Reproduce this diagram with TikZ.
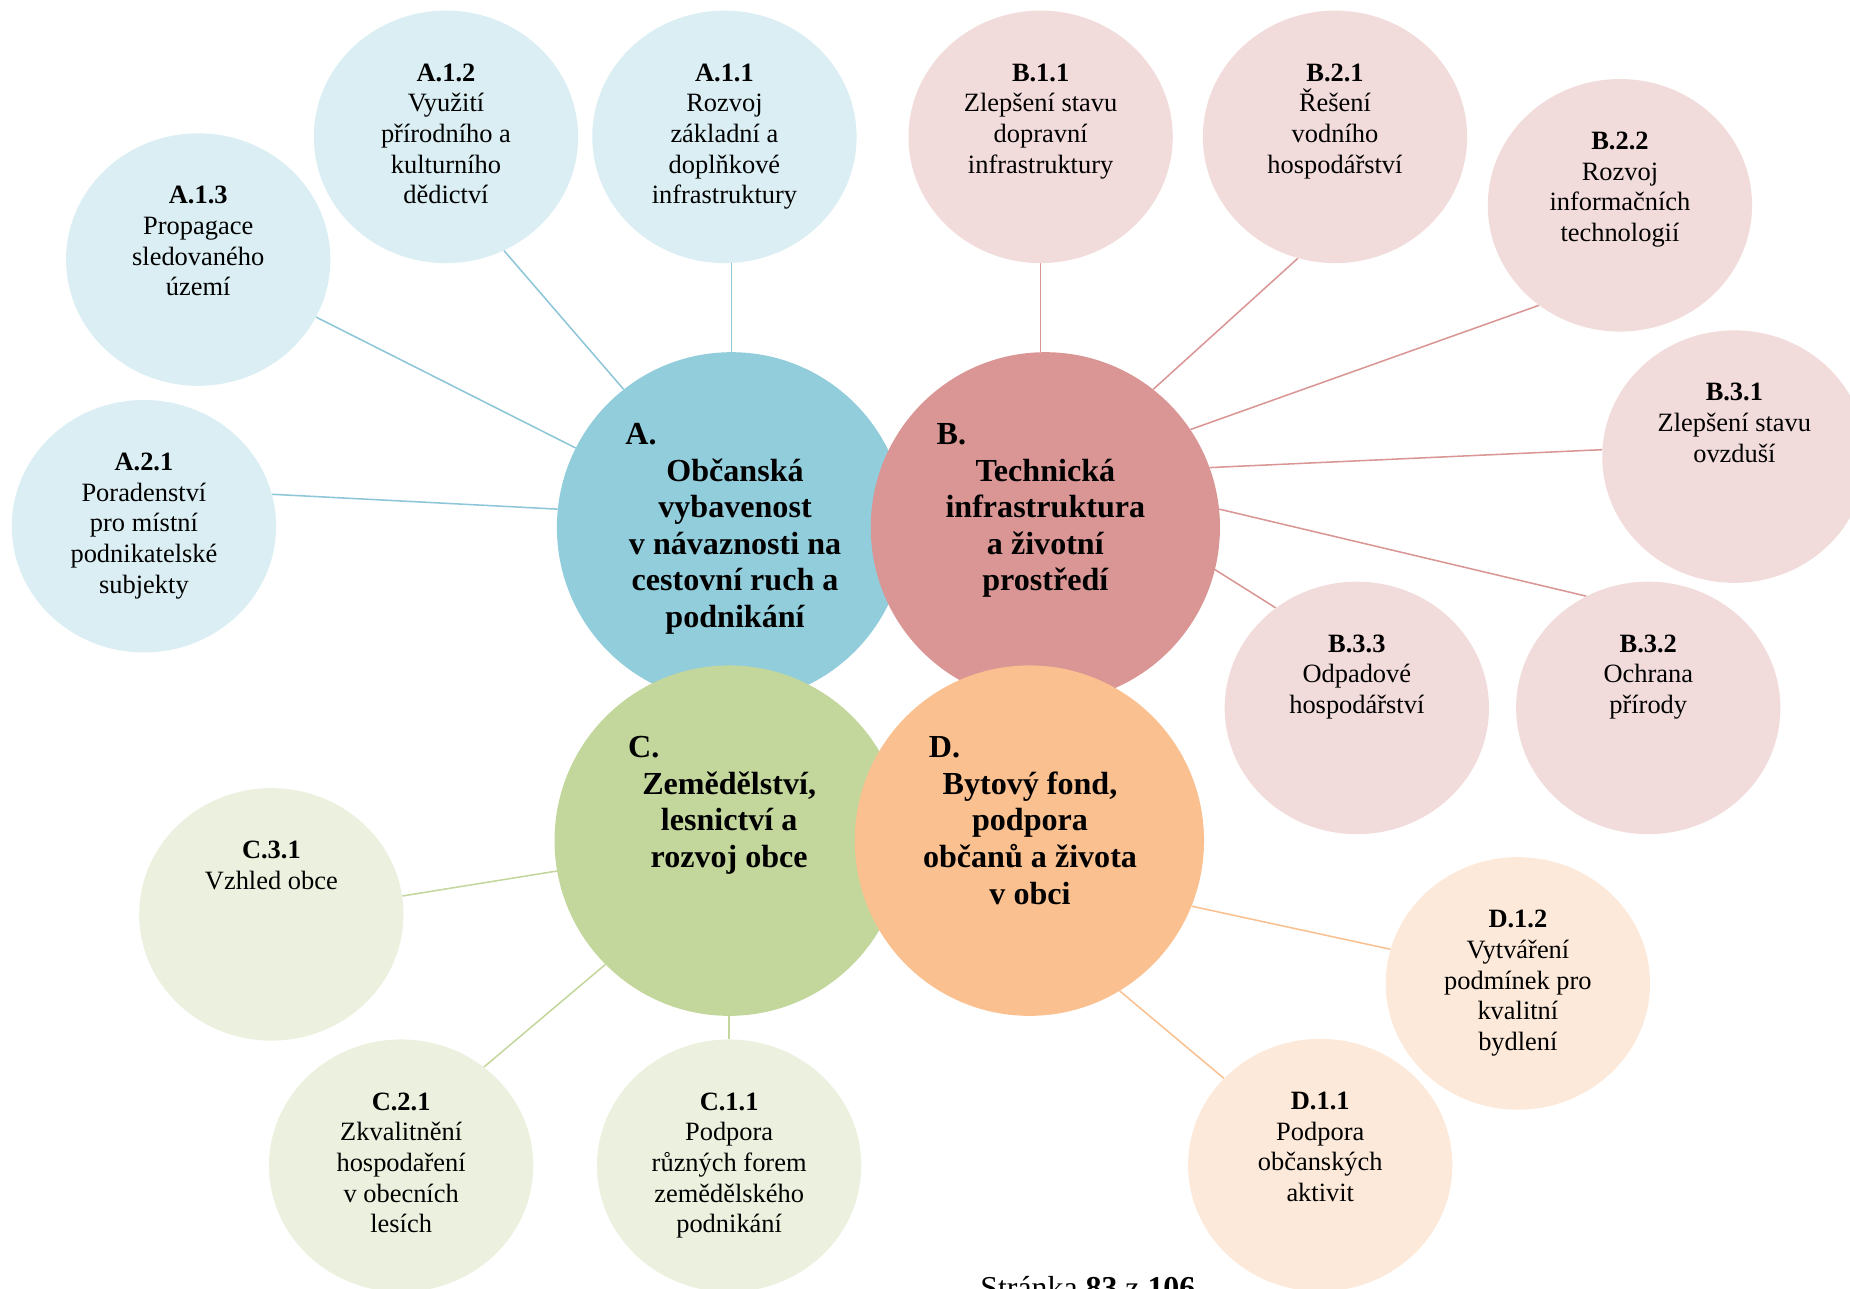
\documentclass[tikz,border=0pt]{standalone}
\usepackage{fontspec}
\setmainfont{Liberation Serif}
\usetikzlibrary{shapes.geometric,calc,backgrounds}
\definecolor{hubA}{HTML}{92CDDC}
\definecolor{satA}{HTML}{DAEEF3}
\definecolor{lnA}{HTML}{8CC6D8}
\definecolor{hubB}{HTML}{D99694}
\definecolor{satB}{HTML}{F2DCDB}
\definecolor{lnB}{HTML}{D99694}
\definecolor{hubC}{HTML}{C3D69B}
\definecolor{satC}{HTML}{EBF1DE}
\definecolor{lnC}{HTML}{C3D69B}
\definecolor{hubD}{HTML}{FAC090}
\definecolor{satD}{HTML}{FDE9D9}
\definecolor{lnD}{HTML}{FAC090}
\newcommand\satlines[1]{\vtop{\halign{\hfil##\hfil\cr#1\crcr}}}
\newcommand\hublines[2]{\vtop{\halign{\hfil##\hfil\cr\omit#1\hfil\cr#2\crcr}}}
\tikzset{
  sat/.style={ellipse, minimum width=224pt, minimum height=214pt, inner sep=0pt, draw=none},
  hub/.style={ellipse, minimum width=296pt, minimum height=297pt, inner sep=0pt, draw=none},
  sattext/.style={anchor=base, inner sep=0pt, font=\fontsize{22.4}{26}\selectfont},
  hubtext/.style={anchor=base, inner sep=0pt, font=\fontsize{27.2}{31}\selectfont\bfseries},
  link/.style={line width=1.3pt},
}
\begin{document}
\begin{tikzpicture}[x=1pt,y=-1pt]
\useasboundingbox (0,0) rectangle (1568,1092);
% satellites
\node[sat, fill=satA] (a11) at (614,116) {};
\node[sat, fill=satA] (a12) at (378,116) {};
\node[sat, fill=satA] (a13) at (168,220) {};
\node[sat, fill=satA] (a21) at (122,446) {};
\node[sat, fill=satB] (b11) at (882,116) {};
\node[sat, fill=satB] (b21) at (1131.5,116) {};
\node[sat, fill=satB] (b22) at (1373,174) {};
\node[sat, fill=satB] (b31) at (1470,387) {};
\node[sat, fill=satB] (b32) at (1397,600) {};
\node[sat, fill=satB] (b33) at (1150,600) {};
\node[sat, fill=satC] (c31) at (230,775) {};
\node[sat, fill=satC] (c21) at (340,988) {};
\node[sat, fill=satC] (c11) at (618,988) {};
\node[sat, fill=satD] (d12) at (1286.5,833.5) {};
\node[sat, fill=satD] (d11) at (1119,987.5) {};
% hubs
\node[hub, fill=hubA] (A) at (620,447) {};
\node[hub, fill=hubB] (B) at (886,447) {};
\node[hub, fill=hubC] (C) at (618,712.5) {};
\node[hub, fill=hubD] (D) at (872.5,712.5) {};
% connectors
\begin{scope}[on background layer]
\draw[link, lnA] (A.north |- a11.south) -- (A.north);
\draw[link, lnA] (a12.-63) -- (A.128);
\draw[link, lnA] (a13.-26) -- (A.153);
\draw[link, lnA] (a21.14) -- (A.174);
\draw[link, lnB] (b11.south) -- (b11.south |- B.north);
\draw[link, lnB] (b21.-107) -- (B.52);
\draw[link, lnB] (b22.-129) -- (B.34);
\draw[link, lnB] (b31.177) -- (B.20);
\draw[link, lnB] (b32.119) -- (B.6);
\draw[link, lnB] (b33.129) -- (B.-14);
\draw[link, lnC] (c31.8) -- (C.190);
\draw[link, lnC] (c21.50) -- (C.-135);
\draw[link, lnC] (C.south) -- (c11.north);
\draw[link, lnD] (d12.165) -- (D.-22);
\draw[link, lnD] (d11.138) -- (D.-59);
\end{scope}
% satellite texts
\node[sattext] (ta11) at ($(a11.north)+(0,60)$) {\satlines{\textbf{A.1.1}\cr Rozvoj\cr základní a\cr doplňkové\cr infrastruktury}};
\node[sattext] (ta12) at ($(a12.north)+(0,60)$) {\satlines{\textbf{A.1.2}\cr Využití\cr přírodního a\cr kulturního\cr dědictví}};
\node[sattext] (ta13) at ($(a13.north)+(0,60)$) {\satlines{\textbf{A.1.3}\cr Propagace\cr sledovaného\cr území}};
\node[sattext] (ta21) at ($(a21.north)+(0,60)$) {\satlines{\textbf{A.2.1}\cr Poradenství\cr pro místní\cr podnikatelské\cr subjekty}};
\node[sattext] (tb11) at ($(b11.north)+(0,60)$) {\satlines{\textbf{B.1.1}\cr Zlepšení stavu\cr dopravní\cr infrastruktury}};
\node[sattext] (tb21) at ($(b21.north)+(0,60)$) {\satlines{\textbf{B.2.1}\cr Řešení\cr vodního\cr hospodářství}};
\node[sattext] (tb22) at ($(b22.north)+(0,60)$) {\satlines{\textbf{B.2.2}\cr Rozvoj\cr informačních\cr technologií}};
\node[sattext] (tb31) at ($(b31.north)+(0,60)$) {\satlines{\textbf{B.3.1}\cr Zlepšení stavu\cr ovzduší}};
\node[sattext] (tb32) at ($(b32.north)+(0,60)$) {\satlines{\textbf{B.3.2}\cr Ochrana\cr přírody}};
\node[sattext] (tb33) at ($(b33.north)+(0,60)$) {\satlines{\textbf{B.3.3}\cr Odpadové\cr hospodářství}};
\node[sattext] (tc31) at ($(c31.north)+(0,60)$) {\satlines{\textbf{C.3.1}\cr Vzhled obce}};
\node[sattext] (tc21) at ($(c21.north)+(0,60)$) {\satlines{\textbf{C.2.1}\cr Zkvalitnění\cr hospodaření\cr v obecních\cr lesích}};
\node[sattext] (tc11) at ($(c11.north)+(0,60)$) {\satlines{\textbf{C.1.1}\cr Podpora\cr různých forem\cr zemědělského\cr podnikání}};
\node[sattext] (td12) at ($(d12.north)+(0,60)$) {\satlines{\textbf{D.1.2}\cr Vytváření\cr podmínek pro\cr kvalitní\cr bydlení}};
\node[sattext] (td11) at ($(d11.north)+(0,60)$) {\satlines{\textbf{D.1.1}\cr Podpora\cr občanských\cr aktivit}};
% hub texts
\node[hubtext] (tA) at ($(A.north)+(3,78.5)$) {\hublines{\kern-3pt A.}{Občanská\cr vybavenost\cr v návaznosti na\cr cestovní ruch a\cr podnikání}};
\node[hubtext] (tB) at ($(B.north)+(0,78.5)$) {\hublines{\kern-7.5pt B.}{Technická\cr infrastruktura\cr a životní\cr prostředí}};
\node[hubtext] (tC) at ($(C.north)+(0,78.5)$) {\hublines{\kern-12pt C.}{Zemědělství,\cr lesnictví a\cr rozvoj obce}};
\node[hubtext] (tD) at ($(D.north)+(0.5,78.5)$) {\hublines{\kern5pt D.}{Bytový fond,\cr podpora\cr občanů a života\cr v obci}};
% footer (cut by the page edge, as in the reference)
\node[anchor=base, inner sep=0pt, font=\fontsize{27}{31}\selectfont] (foot) at (922,1100.4) {Stránka \textbf{83} z \textbf{106}};
\end{tikzpicture}
\end{document}
